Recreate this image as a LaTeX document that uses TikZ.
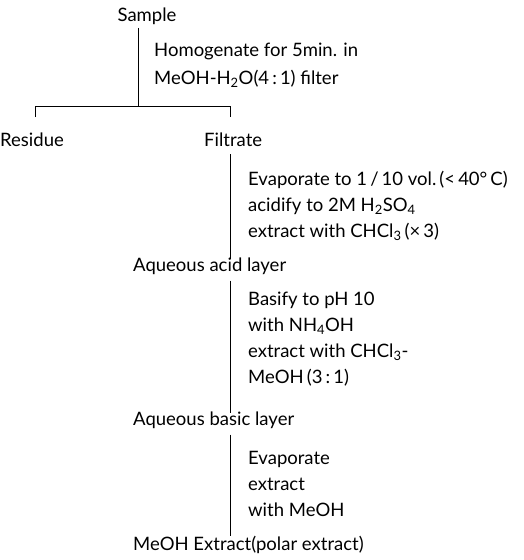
\documentclass[tikz,border=0pt]{standalone}
\usepackage{fontspec}
\setmainfont{Lato}
\usetikzlibrary{positioning}
\usetikzlibrary{calc}
\newcommand{\chemsub}[1]{\textsubscript{#1}}

\begin{document}
\begin{tikzpicture}[x=1pt,y=-1pt,
    every node/.style={font=\fontsize{18.5}{26}\selectfont},
    product/.style={anchor=west, inner sep=2pt},
    stepnote/.style={anchor=west, align=left, inner sep=0pt}]
	\useasboundingbox (0,0) rectangle (524,560);
	% products
	\node (sample) at (147,16) {Sample};
	\node[product] (residue) at (-2,140) {Residue};
	\node[product] (filtrate) at (202,140) {Filtrate};
	\node[product] (acid) at (131,266) {Aqueous acid layer};
	\node[product] (basic) at (131,420) {Aqueous basic layer};
	\node[product] (polar) at (131,545) {MeOH Extract(polar extract)};
	% split of the sample
	\coordinate (fork) at (138,106);
	\coordinate (forkleft) at (35,106);
	\coordinate (forkright) at (230,106);
	\draw (sample.south -| fork) -- (fork);
	\draw (forkleft) ++(0,11) -- (forkleft) -- (forkright) -- ++(0,11);
	% steps
	\draw ([yshift=-5pt]filtrate.south -| forkright) -- ([yshift=-4pt]acid.north -| forkright);
	\draw ([yshift=-4pt]acid.south -| forkright) -- ([yshift=-4pt]basic.north -| forkright);
	\draw ([yshift=-4pt]basic.south -| forkright) -- ([yshift=-2pt]polar.north -| forkright);
	% notes
	\node[stepnote] (homog) at (154,65) {Homogenate for 5min. in\\[2pt]
		MeOH-H\chemsub{2}O(4\,:\,1) filter};
	\node[stepnote] (evap) at (248,206) {Evaporate to 1\,/\,10 vol.\,(<\,40°\,C)\\
		acidify to 2M H\chemsub{2}SO\chemsub{4}\\
		extract with CHCl\chemsub{3}\,(×\,3)};
	\node[stepnote] (basify) at (248,339) {Basify to pH 10\\
		with NH\chemsub{4}OH\\
		extract with CHCl\chemsub{3}-\\
		MeOH\,(3\,:\,1)};
	\node[stepnote] (evap2) at (248,484) {Evaporate\\
		extract\\
		with MeOH};
\end{tikzpicture}
\end{document}
